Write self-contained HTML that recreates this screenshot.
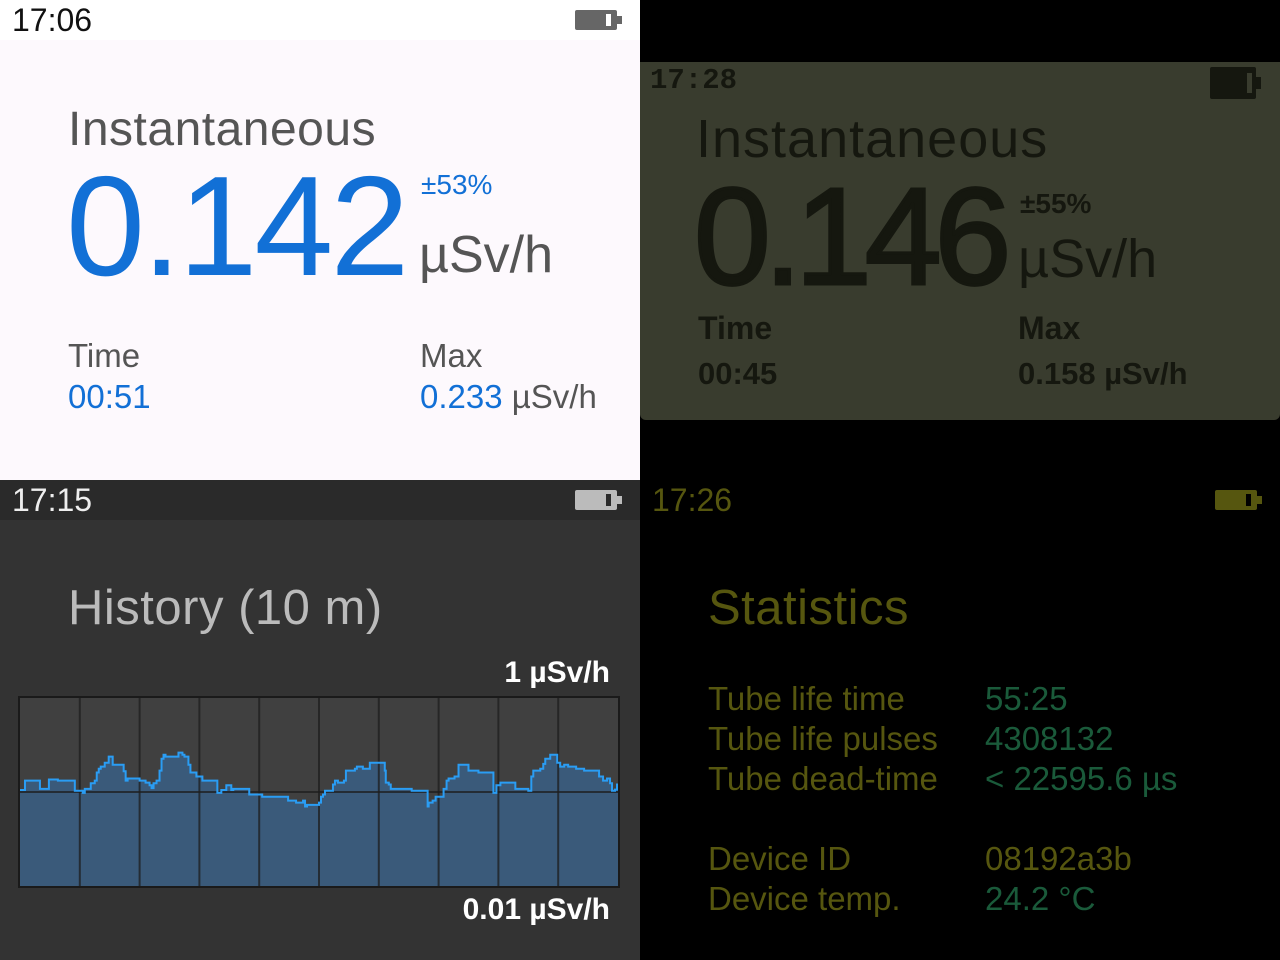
<!DOCTYPE html>
<html><head><meta charset="utf-8">
<style>
*{margin:0;padding:0;box-sizing:border-box}
body{width:1280px;height:960px;background:#000;font-family:"Liberation Sans",sans-serif;position:relative;overflow:hidden}
.abs{position:absolute;white-space:nowrap;line-height:1}
.q{position:absolute;width:640px;height:480px;overflow:hidden}
.batt{position:absolute;width:42px;height:20px;border-radius:2px}
.batt i{position:absolute;right:-5px;top:6px;width:5px;height:8px}
.batt b{position:absolute;right:6px;top:4px;width:5px;height:12px}
</style></head><body>

<div class="q" style="left:0;top:0;background:#fdf9fd">
  <div style="position:absolute;left:0;top:0;width:640px;height:40px;background:#fff"></div>
  <div class="abs" style="left:12px;top:4px;font-size:32px;color:#111">17:06</div>
  <div class="batt" style="left:575px;top:10px;background:#666"><i style="background:#666"></i><b style="background:#fff"></b></div>
  <div class="abs" style="left:68px;top:106px;font-size:48px;color:#555;letter-spacing:0.5px">Instantaneous</div>
  <div class="abs" style="left:66px;top:156px;font-size:142px;color:#1270d6;letter-spacing:-3px">0.142</div>
  <div class="abs" style="left:421px;top:171px;font-size:28px;color:#1270d6">±53%</div>
  <div class="abs" style="left:419px;top:229px;font-size:52px;color:#555">µSv/h</div>
  <div class="abs" style="left:68px;top:339px;font-size:33px;color:#555">Time</div>
  <div class="abs" style="left:68px;top:380px;font-size:33px;color:#1270d6">00:51</div>
  <div class="abs" style="left:420px;top:339px;font-size:33px;color:#555">Max</div>
  <div class="abs" style="left:420px;top:380px;font-size:33px;color:#1270d6">0.233 <span style="color:#555">µSv/h</span></div>
</div>

<div class="q" style="left:640px;top:0;background:#000">
  <div style="position:absolute;left:0;top:62px;width:640px;height:358px;background:#393c2e;border-radius:0 0 6px 6px"></div>
  <div class="abs" style="left:10px;top:66px;font-size:29px;color:#15170f;font-weight:bold;font-family:'Liberation Mono',monospace">17:28</div>
  <div class="batt" style="left:570px;top:67px;width:46px;height:32px;background:#15170f"><i style="background:#15170f;top:10px;height:12px"></i><b style="background:#393c2e;top:6px;height:20px;right:4px"></b></div>
  <div class="abs" style="left:56px;top:112px;font-size:54px;color:#15170f;letter-spacing:1px">Instantaneous</div>
  <div class="abs" style="left:54px;top:168px;font-size:138px;color:#15170f;letter-spacing:-7px;-webkit-text-stroke:3px #15170f">0.146</div>
  <div class="abs" style="left:380px;top:190px;font-size:28px;color:#15170f;font-weight:bold">±55%</div>
  <div class="abs" style="left:378px;top:232px;font-size:54px;color:#15170f">µSv/h</div>
  <div class="abs" style="left:58px;top:312px;font-size:32px;color:#15170f;font-weight:bold">Time</div>
  <div class="abs" style="left:58px;top:358px;font-size:31px;color:#15170f;font-weight:bold">00:45</div>
  <div class="abs" style="left:378px;top:312px;font-size:32px;color:#15170f;font-weight:bold">Max</div>
  <div class="abs" style="left:378px;top:358px;font-size:31px;color:#15170f;font-weight:bold">0.158 µSv/h</div>
</div>

<div class="q" style="left:0;top:480px;background:#333">
  <div style="position:absolute;left:0;top:0;width:640px;height:40px;background:#2a2a2a"></div>
  <div class="abs" style="left:12px;top:4px;font-size:32px;color:#eee">17:15</div>
  <div class="batt" style="left:575px;top:10px;background:#bbb"><i style="background:#bbb"></i><b style="background:#2a2a2a"></b></div>
  <div class="abs" style="left:68px;top:104px;font-size:49px;color:#bbb;letter-spacing:0.5px">History (10 m)</div>
  <div class="abs" style="right:30px;top:178px;font-size:30px;color:#fff;font-weight:bold">1 µSv/h</div>
  <div class="abs" style="right:30px;top:415px;font-size:30px;color:#fff;font-weight:bold">0.01 µSv/h</div>
  <svg id="chart" style="position:absolute;left:0;top:0" width="640" height="480"></svg>
</div>

<div class="q" style="left:640px;top:480px;background:#000">
  <div class="abs" style="left:12px;top:4px;font-size:32px;color:#56560f">17:26</div>
  <div class="batt" style="left:575px;top:10px;background:#56560f"><i style="background:#56560f"></i><b style="background:#000"></b></div>
  <div class="abs" style="left:68px;top:104px;font-size:49px;color:#56560f;letter-spacing:0.5px">Statistics</div>
  <div class="abs" style="left:68px;top:202px;font-size:33px;color:#56560f">Tube life time</div>
  <div class="abs" style="left:345px;top:202px;font-size:33px;color:#1a5a3a">55:25</div>
  <div class="abs" style="left:68px;top:242px;font-size:33px;color:#56560f">Tube life pulses</div>
  <div class="abs" style="left:345px;top:242px;font-size:33px;color:#1a5a3a">4308132</div>
  <div class="abs" style="left:68px;top:282px;font-size:33px;color:#56560f">Tube dead-time</div>
  <div class="abs" style="left:345px;top:282px;font-size:33px;color:#1a5a3a">&lt; 22595.6 µs</div>
  <div class="abs" style="left:68px;top:362px;font-size:33px;color:#56560f">Device ID</div>
  <div class="abs" style="left:345px;top:362px;font-size:33px;color:#56560f">08192a3b</div>
  <div class="abs" style="left:68px;top:402px;font-size:33px;color:#56560f">Device temp.</div>
  <div class="abs" style="left:345px;top:402px;font-size:33px;color:#1a5a3a">24.2 °C</div>
</div>

<script>
const times = [0,5,20,29,38,55,63,65,71,75,77,79,81,85,89,93,104,106,108,120,126,130,132,134,137,140,142,144,146,159,163,165,169,171,177,183,198,202,207,212,214,230,243,269,277,284,286,288,300,302,304,306,314,316,319,325,327,336,338,344,351,366,367,370,372,393,409,410,414,417,425,428,430,436,440,450,460,475,478,482,497,510,513,515,522,525,527,532,539,542,546,550,558,566,581,585,589,592,594,597,599];
const values = [0.105,0.132,0.108,0.136,0.132,0.103,0.098,0.108,0.124,0.132,0.161,0.177,0.186,0.205,0.238,0.195,0.166,0.132,0.139,0.132,0.126,0.118,0.110,0.124,0.132,0.169,0.226,0.249,0.238,0.262,0.249,0.238,0.195,0.161,0.146,0.132,0.098,0.105,0.118,0.105,0.108,0.094,0.089,0.081,0.077,0.081,0.070,0.073,0.077,0.089,0.094,0.103,0.120,0.132,0.126,0.132,0.169,0.177,0.186,0.177,0.205,0.169,0.126,0.120,0.108,0.103,0.070,0.077,0.081,0.089,0.108,0.132,0.139,0.146,0.195,0.169,0.161,0.098,0.118,0.126,0.108,0.103,0.146,0.169,0.177,0.199,0.226,0.249,0.205,0.186,0.195,0.186,0.177,0.169,0.146,0.132,0.139,0.124,0.103,0.106,0.120];
const yTicks = [0.01, 0.1, 1];
const tMax = 600;

const NS = 'http://www.w3.org/2000/svg';
const svg = document.getElementById('chart');
const L = 20, R = 618, T = 218, B = 406;
const xs = t => L + (t / tMax) * (R - L);
const ys = v => B - (Math.log10(v) - Math.log10(yTicks[0])) / (Math.log10(yTicks[2]) - Math.log10(yTicks[0])) * (B - T);

function mk(tag, attrs) { const e = document.createElementNS(NS, tag); for (const k in attrs) e.setAttribute(k, attrs[k]); svg.appendChild(e); return e; }

const bg = mk('rect', {x: L, y: T, width: R - L, height: B - T, fill: '#404040'});



let d = 'M' + xs(0) + ',' + B;
let line = '';
for (let i = 0; i < times.length; i++) {
  const x0 = xs(times[i]), x1 = xs(i + 1 < times.length ? times[i + 1] : tMax), y = ys(values[i]);
  d += ' L' + x0 + ',' + y + ' L' + x1 + ',' + y;
  line += (i === 0 ? 'M' : ' L') + x0 + ',' + y + ' L' + x1 + ',' + y;
}
d += ' L' + xs(tMax) + ',' + B + ' Z';
const area = mk('path', {d: d, fill: '#3a5a7a'});



for (let k = 1; k < 10; k++) {
  const x = xs(k * 60);
  const g = mk('line', {x1: x, x2: x, y1: T, y2: B, stroke: '#1e1e1e', 'stroke-width': 2, 'stroke-opacity': 0.75});
  
  
}
const hg = mk('line', {x1: L, x2: R, y1: ys(yTicks[1]), y2: ys(yTicks[1]), stroke: '#1e1e1e', 'stroke-width': 2, 'stroke-opacity': 0.75});



const ln = mk('path', {d: line, fill: 'none', stroke: '#2a9df4', 'stroke-width': 2});



const fr = mk('rect', {x: L - 1, y: T - 1, width: R - L + 2, height: B - T + 2, fill: 'none', stroke: '#1a1a1a', 'stroke-width': 2});


</script>
</body></html>
